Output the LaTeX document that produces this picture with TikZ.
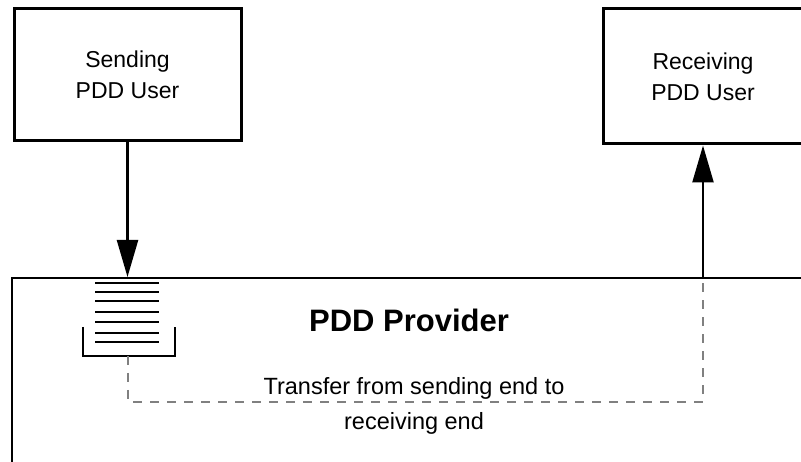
\documentclass[tikz,border=0pt]{standalone}
\usepackage{fontspec}
\setmainfont{Liberation Sans}
\usetikzlibrary{arrows.meta,positioning}
\definecolor{dashgray}{gray}{0.5}

\begin{document}
\begin{tikzpicture}[x=1pt,y=-1pt,
        every node/.style={font=\fontsize{23}{31}\selectfont},
        userbox/.style={draw,line width=3pt,align=center,inner sep=0},
        flow/.style={line width=2.4pt,-{Triangle[length=37pt,width=21pt]}},
        transfer/.style={dashgray,line width=2.4pt,dash pattern=on 9pt off 8pt}]
        \path [use as bounding box,clip] (0,0) rectangle (801,462);
        \node [userbox,minimum width=227pt,minimum height=132pt] (sender) at (127.5,75) {Sending\\PDD User};
        \node [userbox,minimum width=200pt,minimum height=135pt] (receiver) at (703,76.5) {Receiving\\PDD User};
        \node [draw,line width=2.4pt,minimum width=800pt,minimum height=220pt,anchor=north west] (provider) at (11,277) {};
        \node [font=\fontsize{31}{36}\selectfont\bfseries] (title) at (409,320) {PDD Provider};
        \foreach \y in {283,292,301,312,322,333,342} {
            \draw [line width=2.4pt] (95,\y) -- (159,\y); % queued data units
        }
        \draw [line width=2.4pt] (83,327) |- (175,356) -- (175,327); % tray
        \coordinate (tray) at (128,356);
        \coordinate (exit) at (receiver.south |- provider.north);
        \draw [flow] (sender) -- (sender |- provider.north);
        \draw [flow] (exit) -- (receiver);
        \draw [transfer] (tray) -- ++(0,46) -| (exit); % transfer path
        \node [align=center,font=\fontsize{23.5}{35}\selectfont,anchor=base] (note) at (414,429) {Transfer from sending end to\\receiving end};
    \end{tikzpicture}
\end{document}
